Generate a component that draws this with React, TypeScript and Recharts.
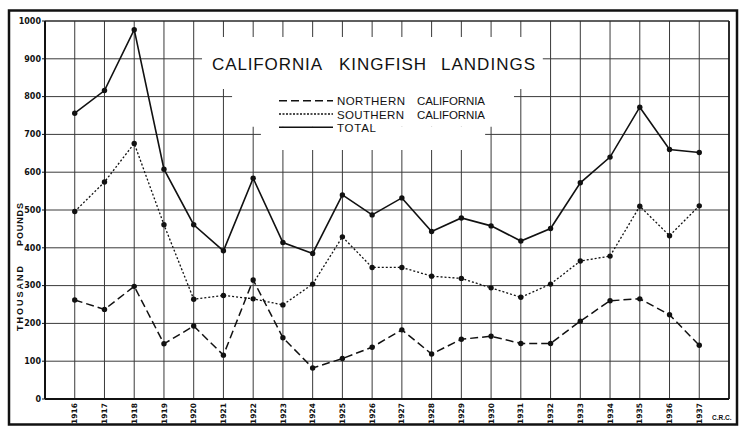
import {
  CartesianGrid,
  Line,
  LineChart,
  ReferenceArea,
  ReferenceLine,
  XAxis,
  YAxis,
} from "recharts";

// Landings in thousand pounds
const years = [
  1916, 1917, 1918, 1919, 1920, 1921, 1922, 1923, 1924, 1925, 1926, 1927,
  1928, 1929, 1930, 1931, 1932, 1933, 1934, 1935, 1936, 1937,
];
const northern = [
  262, 237, 298, 146, 193, 116, 315, 162, 82, 107, 137, 183, 119, 158, 166,
  147, 147, 206, 260, 265, 223, 142,
];
const southern = [
  496, 574, 676, 461, 264, 274, 265, 249, 304, 429, 348, 348, 325, 319, 294,
  269, 304, 365, 378, 510, 432, 511,
];
const total = [
  756, 816, 977, 608, 461, 392, 584, 414, 385, 540, 487, 532, 443, 479, 458,
  418, 451, 572, 640, 772, 660, 652,
];

// grid columns run one year past each end of the series
const xGridTicks = [
  1915, 1916, 1917, 1918, 1919, 1920, 1921, 1922, 1923, 1924, 1925, 1926,
  1927, 1928, 1929, 1930, 1931, 1932, 1933, 1934, 1935, 1936, 1937, 1938,
];
const yTicks = [0, 100, 200, 300, 400, 500, 600, 700, 800, 900, 1000];

const data = years.map((year, i) => ({
  year,
  northern: northern[i],
  southern: southern[i],
  total: total[i],
}));

const INK = "#111";
const FONT = "'DejaVu Sans', sans-serif";
const TITLE_FONT = "'Liberation Sans', Arial, sans-serif";

function YearTick(props: any) {
  const { x, y, payload } = props;
  if (payload.value < years[0] || payload.value > years[years.length - 1]) return null;
  return (
    <text
      x={x}
      y={y}
      dy="0.35em"
      transform={`rotate(-90 ${x} ${y})`}
      textAnchor="end"
      fontFamily={FONT}
      fontSize={7.5}
      fontWeight="bold"
      fill={INK}
    >
      {payload.value}
    </text>
  );
}

const dot = { r: 2.7, fill: INK, stroke: INK, strokeWidth: 0 };

export default function App() {
  return (
    <div style={{ position: "absolute", left: 0, top: 0, width: 740, height: 429, background: "#fff" }}>
      <LineChart
        width={740}
        height={429}
        data={data}
        margin={{ top: 21, right: 11, bottom: 0, left: 0 }}
      >
        <CartesianGrid stroke="#3a3a3a" strokeWidth={1} />
        {/* white patches behind the title and legend */}
        <ReferenceArea x1={1920.28} x2={1931.74} y1={820} y2={958} fill="#fff" fillOpacity={1} stroke="none" />
        <ReferenceArea x1={1921.29} x2={1930.77} y1={720} y2={820} fill="#fff" fillOpacity={1} stroke="none" />
        <ReferenceArea x1={1922.26} x2={1929.8} y1={659} y2={720} fill="#fff" fillOpacity={1} stroke="none" />
        <ReferenceLine x={1938} stroke={INK} strokeWidth={1.6} />
        <ReferenceLine y={1000} stroke="#222" strokeWidth={1.2} />
        <XAxis
          dataKey="year"
          type="number"
          domain={[1915, 1938]}
          ticks={xGridTicks}
          interval={0}
          height={30}
          axisLine={{ stroke: INK, strokeWidth: 2 }}
          tickLine={false}
          tickSize={0}
          tickMargin={4}
          tick={<YearTick />}
        />
        <YAxis
          type="number"
          domain={[0, 1000]}
          ticks={yTicks}
          interval={0}
          width={45}
          axisLine={{ stroke: INK, strokeWidth: 2 }}
          tickLine={{ stroke: INK }}
          tickSize={3}
          tickMargin={1}
          tick={{ fontFamily: FONT, fontSize: 8, fontWeight: "bold", fill: INK }}
        />
        <Line
          type="linear"
          dataKey="northern"
          stroke={INK}
          strokeWidth={1.5}
          strokeDasharray="8 4"
          dot={dot}
          isAnimationActive={false}
        />
        <Line
          type="linear"
          dataKey="southern"
          stroke={INK}
          strokeWidth={1.3}
          strokeDasharray="2 2"
          dot={dot}
          isAnimationActive={false}
        />
        <Line
          type="linear"
          dataKey="total"
          stroke={INK}
          strokeWidth={1.6}
          dot={dot}
          isAnimationActive={false}
        />
      </LineChart>

      <svg
        width={740}
        height={429}
        style={{ position: "absolute", left: 0, top: 0, pointerEvents: "none" }}
      >
        <rect x={9} y={10.5} width={728} height={414} fill="none" stroke={INK} strokeWidth={2.5} />

        <g fontFamily={TITLE_FONT} fontSize={17} fill={INK}>
          <text x={212} y={70} textLength={110} lengthAdjust="spacing">CALIFORNIA</text>
          <text x={339} y={70} textLength={87} lengthAdjust="spacing">KINGFISH</text>
          <text x={441} y={70} textLength={94} lengthAdjust="spacing">LANDINGS</text>
        </g>

        <g stroke={INK} strokeWidth={1.5}>
          <line x1={279} y1={100.7} x2={333} y2={100.7} strokeDasharray="8 4" />
          <line x1={279} y1={114} x2={333} y2={114} strokeDasharray="2 1.5" strokeWidth={1.3} />
          <line x1={279} y1={127.3} x2={333} y2={127.3} />
        </g>
        <g fontFamily={TITLE_FONT} fontSize={11.5} fill={INK}>
          <text x={337} y={105} textLength={68} lengthAdjust="spacing">NORTHERN</text>
          <text x={417} y={105} textLength={68} lengthAdjust="spacing">CALIFORNIA</text>
          <text x={337} y={118.5} textLength={67} lengthAdjust="spacing">SOUTHERN</text>
          <text x={417} y={118.5} textLength={68} lengthAdjust="spacing">CALIFORNIA</text>
          <text x={337} y={131.5} textLength={39} lengthAdjust="spacing">TOTAL</text>
        </g>

        <g fontFamily={TITLE_FONT} fontSize={9} fontWeight="bold" fill={INK}>
          <text
            x={20}
            y={331}
            dy="0.35em"
            transform="rotate(-90 20 331)"
            textLength={65}
            lengthAdjust="spacing"
          >
            THOUSAND
          </text>
          <text
            x={20}
            y={246}
            dy="0.35em"
            transform="rotate(-90 20 246)"
            textLength={43}
            lengthAdjust="spacing"
          >
            POUNDS
          </text>
        </g>

        <text x={712} y={420} fontFamily={TITLE_FONT} fontSize={6.5} fontWeight="bold" fill={INK}>
          C.R.C.
        </text>
      </svg>
    </div>
  );
}
